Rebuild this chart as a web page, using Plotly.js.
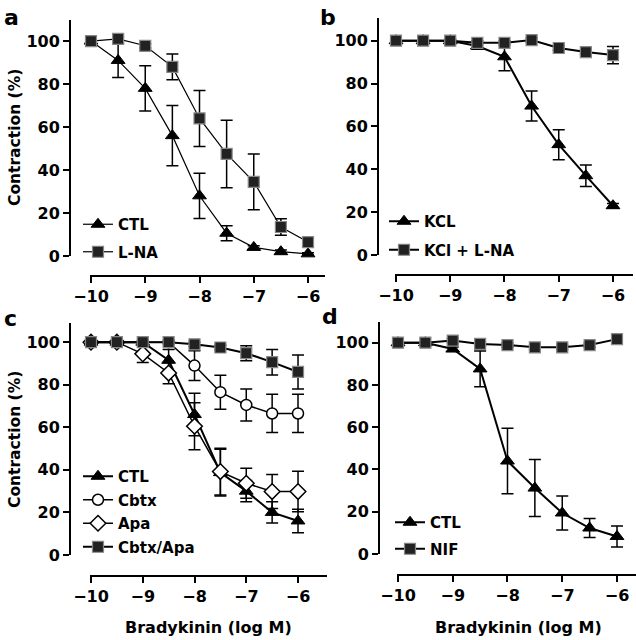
<!DOCTYPE html>
<html>
<head>
<meta charset="utf-8">
<script src="https://cdn.plot.ly/plotly-3.0.1.min.js"></script>
<style>
  html, body { margin: 0; padding: 0; background: #fff; }
  #chart { width: 636px; height: 640px; }
</style>
</head>
<body>
<div id="chart"></div>
<script>
// Bradykinin dose (log M), same for every panel
const logDose = [-10, -9.5, -9, -8.5, -8, -7.5, -7, -6.5, -6];
const xTicks = [-10, -9, -8, -7, -6];
const yTicks = [0, 20, 40, 60, 80, 100];

// panel a
const aCtl = [100, 91, 78, 56, 28, 10.6, 4, 2, 1];
const aCtlErr = [0, 8, 10.5, 14, 10.5, 3.5, 0.8, 0.8, 0.5];
const aLna = [100, 101, 97.8, 88, 64, 47.5, 34.5, 13.5, 6.5];
const aLnaErr = [0, 1, 1, 6, 13, 15.7, 13, 3.8, 1.5];

// panel b
const bKcl = [100, 100, 100, 97.5, 92.5, 69.5, 51.5, 37, 23];
const bKclErr = [0, 0, 0.8, 1.5, 6.5, 7, 7, 5, 1];
const bKclLna = [100, 100, 100, 99, 99, 100.3, 96.6, 94.7, 93.3];
const bKclLnaErr = [1, 0.5, 0.5, 1, 1, 1, 1, 1, 4];

// panel c
const cCtl = [100, 100, 100, 91.5, 66, 38.7, 30, 20, 16];
const cCtlErr = [0, 0, 0, 5, 10, 11, 5, 5, 5.5];
const cCbtx = [100, 100, 100, 100, 89, 76.5, 70.5, 66.5, 66.5];
const cCbtxErr = [0, 0, 0, 0, 7, 8, 7.5, 9, 9];
const cApa = [100, 100, 94.5, 85.5, 60.5, 39.2, 33.7, 29.8, 29.8];
const cApaErr = [0, 0, 4, 5, 11, 11, 7, 8, 9.5];
const cCbtxApa = [100, 100, 100, 100, 99, 97.5, 94.8, 90.6, 86];
const cCbtxApaErr = [0, 0, 0, 0, 1, 1, 3.5, 6, 8];

// panel d
const dCtl = [100, 100, 97, 87.6, 44, 31.2, 19.4, 12.3, 8.3];
const dCtlErr = [0, 0, 1, 8.5, 15.5, 13.5, 8, 4.5, 5];
const dNif = [100, 100, 101, 99.4, 98.9, 97.8, 97.8, 98.9, 101.7];
const dNifErr = [0.5, 0.5, 1, 1, 1, 1, 1, 1, 1];

const W = 636, H = 640;
const px = v => v / W;          // pixel -> paper x
const py = v => 1 - v / H;      // pixel -> paper y
const FONT = 'DejaVu Sans';

const tri = {symbol: 'triangle-up', size: 12, color: '#000', line: {color: '#000', width: 1}};
const sq = {symbol: 'square', size: 11, color: '#222', line: {color: '#888', width: 1.2}};
const circ = {symbol: 'circle', size: 11, color: '#fff', line: {color: '#000', width: 1.5}};
const dia = {symbol: 'diamond', size: 12, color: '#fff', line: {color: '#000', width: 1.5}};

function series(n, y, err, marker, name, lw, leg) {
  return {
    x: logDose, y: y, name: name,
    xaxis: 'x' + n, yaxis: 'y' + n,
    type: 'scatter', mode: 'lines+markers',
    line: {color: '#000', width: lw},
    marker: marker,
    error_y: {type: 'data', array: err, visible: true, color: '#000', thickness: 1.5, width: 6},
    cliponaxis: false,
    legend: leg, legendgroup: name + n
  };
}

// order = legend order (top to bottom)
const traces = [
  series('', aCtl, aCtlErr, tri, 'CTL', 1.2, 'legend'),
  series('', aLna, aLnaErr, sq, 'L-NA', 1.2, 'legend'),
  series('2', bKcl, bKclErr, tri, 'KCL', 2, 'legend2'),
  series('2', bKclLna, bKclLnaErr, sq, 'KCl + L-NA', 2, 'legend2'),
  series('3', cCtl, cCtlErr, tri, 'CTL', 2, 'legend3'),
  series('3', cCbtx, cCbtxErr, circ, 'Cbtx', 1.5, 'legend3'),
  series('3', cApa, cApaErr, dia, 'Apa', 1.5, 'legend3'),
  series('3', cCbtxApa, cCbtxApaErr, sq, 'Cbtx/Apa', 2, 'legend3'),
  series('4', dCtl, dCtlErr, tri, 'CTL', 2, 'legend4'),
  series('4', dNif, dNifErr, sq, 'NIF', 2, 'legend4')
];

const tickfont = {family: FONT, size: 16, weight: 700, color: '#000'};

function xAxis(left, right, yLine, lo, hi) {
  return {
    domain: [px(left), px(right)], range: [lo, hi],
    anchor: 'free', position: py(yLine),
    showline: true, linewidth: 2, linecolor: '#000',
    ticks: 'outside', ticklen: 6, tickwidth: 2, tickcolor: '#000',
    tickvals: xTicks, showgrid: false, zeroline: false, tickfont: tickfont
  };
}
function yAxis(top, bottom, xLine, hi) {
  return {
    domain: [py(bottom), py(top)], range: [0, hi],
    anchor: 'free', position: px(xLine),
    showline: true, linewidth: 2, linecolor: '#000',
    ticks: 'outside', ticklen: 6, tickwidth: 2, tickcolor: '#000',
    tickvals: yTicks, showgrid: false, zeroline: false, tickfont: tickfont
  };
}

const legFont = {family: FONT, size: 15, weight: 700, color: '#000'};
function legendAt(x, y, gap) {
  return {x: px(x), y: py(y), xanchor: 'left', yanchor: 'top', bgcolor: 'rgba(0,0,0,0)',
    font: legFont, traceorder: 'grouped', tracegroupgap: gap, itemwidth: 30};
}

function label(text, x, y, size, angle) {
  return {text: text, x: px(x), y: py(y), xref: 'paper', yref: 'paper', showarrow: false,
    xanchor: 'center', yanchor: 'middle',
    textangle: angle || 0, font: {family: FONT, size: size, weight: 700, color: '#000'}};
}

const layout = {
  width: W, height: H,
  margin: {l: 0, r: 0, t: 0, b: 0},
  paper_bgcolor: '#fff', plot_bgcolor: '#fff',
  xaxis: xAxis(90, 325, 276, -10.018, -5.687),
  yaxis: yAxis(20, 256, 70, 109.8),
  xaxis2: xAxis(395, 633, 275, -10.018, -5.631),
  yaxis2: yAxis(18, 255, 378, 110.6),
  xaxis3: xAxis(90, 327, 576, -10.019, -5.44),
  yaxis3: yAxis(323, 555, 70, 109),
  xaxis4: xAxis(397, 636, 575, -10.018, -5.653),
  yaxis4: yAxis(322, 554, 379, 109.8),
  legend: legendAt(78, 208, 5),
  legend2: legendAt(384, 205, 6),
  legend3: legendAt(78, 460, 1),
  legend4: legendAt(390, 506, 4),
  annotations: [
    label('a', 11, 18, 22), label('b', 328, 18, 22),
    label('c', 10, 318, 22), label('d', 330, 316, 22),
    label('Contraction (%)', 15, 138, 15.5, -90),
    label('Contraction (%)', 15, 440, 15.5, -90),
    label('Bradykinin (log M)', 208, 627, 16),
    label('Bradykinin (log M)', 518, 627, 16)
  ]
};

Plotly.newPlot('chart', traces, layout, {displayModeBar: false, staticPlot: true});
</script>
</body>
</html>
